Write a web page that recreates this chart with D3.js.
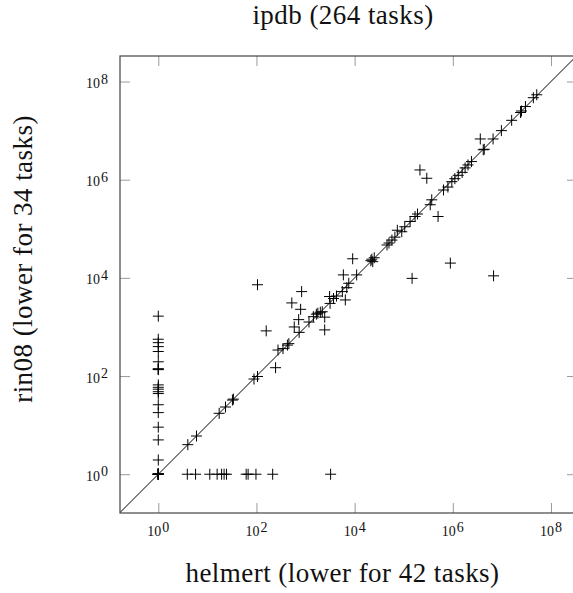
<!DOCTYPE html>
<html><head><meta charset="utf-8">
<script src="https://cdn.jsdelivr.net/npm/d3@7"></script>
<style>body{margin:0;background:#fff}svg{display:block}</style>
</head><body>
<script>
// ---- data (helmert vs rin08, parallel arrays) ----
const helmert = [
  1,1,1,1,1,1,1,1,1,1,
  1,1,1,1,1,1,1,1,1,1,1,1,1,1,1,1,1,1,1,
  3.9,5.75,11.2,15.8,19.5,21.9,24.5,61.7,67.6,97.7,214,3240,
  4,6,17.4,23.4,32.4,33.9,89,105,245,275,347,427,457,158,105,589,741,724,525,794,832,
  1175,1445,1660,1780,2000,2190,2455,2455,3090,3160,3720,4270,5620,6460,6920,7590,5890,9120,11000,
  21400,22400,23400,25100,45700,50100,57500,66100,74100,91200,105000,135000,148000,170000,191000,
  214000,295000,347000,372000,501000,646000,794000,891000,955000,
  1.10e6,1.29e6,1.55e6,1.78e6,2.04e6,2.40e6,6.76e6,3.63e6,4.17e6,4.37e6,6.61e6,9.77e6,
  1.58e7,2.40e7,2.51e7,3.02e7,4.37e7,5.13e7
];
const rin08 = [
  1,1,1,1,1,1,1,1,1,1,
  1660,562,479,398,316,195,138,135,141,66,59,54,48,44,26,18,9.1,5,1.95,
  1,1,1,1,1,1,1,1,1,1,1,1,
  4,6,17.4,23.4,32.4,33.9,87,98,148,339,363,427,457,832,7240,1000,776,1410,3090,2290,5250,
  1260,1620,1820,1905,2000,2040,1585,871,4170,3020,3800,4270,5250,3550,6310,7760,11500,24500,11500,
  22400,24000,21400,25700,46800,51300,58900,67600,93300,87100,110000,141000,9770,178000,200000,
  1580000,1070000,309000,389000,178000,617000,708000,20000,912000,
  1.05e6,1.23e6,1.41e6,1.74e6,2.0e6,2.34e6,1.10e4,6.76e6,4.07e6,4.17e6,6.76e6,1.0e7,
  1.62e7,2.34e7,2.51e7,3.09e7,4.68e7,5.37e7
];
const tickValues = [1, 1e2, 1e4, 1e6, 1e8];
const tickBase = "10";
const tickExponents = ["0", "2", "4", "6", "8"];
const titleText = "ipdb (264 tasks)";
const xLabelText = "helmert (lower for 42 tasks)";
const yLabelText = "rin08 (lower for 34 tasks)";

// ---- layout ----
const W = 573, H = 593;
const L = 120, R = 577, T = 56, B = 513;
const FONT = "'Liberation Serif', 'Times New Roman', serif";

const svg = d3.select("body").append("svg").attr("width", W).attr("height", H);

const x = d3.scaleLog().domain([Math.pow(10, -0.78), Math.pow(10, 8.53)]).range([L, R]);
const y = d3.scaleLog().domain([Math.pow(10, -0.79), Math.pow(10, 8.52)]).range([B, T]);

svg.append("defs").append("clipPath").attr("id", "clip")
  .append("rect").attr("x", L).attr("y", T).attr("width", R - L).attr("height", B - T);

// ticks on all four sides (inward)
function styleAxis(g) {
  g.select(".domain").remove();
  g.selectAll(".tick line").attr("stroke", "#9a9a9a").attr("stroke-width", 1);
  g.selectAll(".tick text").remove();
}
svg.append("g").attr("transform", `translate(0,${B})`)
  .call(d3.axisBottom(x).tickValues(tickValues).tickSize(-10).tickFormat(() => "")).call(styleAxis);
svg.append("g").attr("transform", `translate(0,${T})`)
  .call(d3.axisTop(x).tickValues(tickValues).tickSize(-10).tickFormat(() => "")).call(styleAxis);
svg.append("g").attr("transform", `translate(${L},0)`)
  .call(d3.axisLeft(y).tickValues(tickValues).tickSize(-10).tickFormat(() => "")).call(styleAxis);
svg.append("g").attr("transform", `translate(${R},0)`)
  .call(d3.axisRight(y).tickValues(tickValues).tickSize(-10).tickFormat(() => "")).call(styleAxis);

// tick labels
const tickData = tickValues.map((v, i) => ({ v, e: tickExponents[i] }));
const xl = svg.append("g").selectAll("text").data(tickData).join("text")
  .attr("x", d => x(d.v)).attr("y", 536).attr("text-anchor", "middle")
  .attr("font-family", FONT).attr("font-size", 14).attr("fill", "#111");
xl.append("tspan").text(tickBase);
xl.append("tspan").attr("dx", 1).attr("dy", -4.5).text(d => d.e);

const yl = svg.append("g").selectAll("text").data(tickData).join("text")
  .attr("x", 108).attr("y", d => y(d.v) + 6.5).attr("text-anchor", "end")
  .attr("font-family", FONT).attr("font-size", 14).attr("fill", "#111");
yl.append("tspan").text(tickBase);
yl.append("tspan").attr("dx", 1).attr("dy", -4.5).text(d => d.e);

// plot content
const plot = svg.append("g").attr("clip-path", "url(#clip)");
const dmin = Math.pow(10, -0.79), dmax = Math.pow(10, 8.6);
plot.append("line")
  .attr("x1", x(dmin)).attr("y1", y(dmin)).attr("x2", x(dmax)).attr("y2", y(dmax))
  .attr("stroke", "#000").attr("stroke-width", 1);

const pts = helmert.map((h, i) => ({ h, r: rin08[i] }));
const s = 5.5;
plot.append("g").selectAll("path").data(pts).join("path")
  .attr("d", d => {
    const cx = x(d.h), cy = y(d.r);
    return `M${cx - s},${cy}H${cx + s}M${cx},${cy - s}V${cy + s}`;
  })
  .attr("stroke", "#000").attr("stroke-width", 1).attr("fill", "none");

// frame
svg.append("rect").attr("x", L).attr("y", T).attr("width", R - L).attr("height", B - T)
  .attr("fill", "none").attr("stroke", "#444").attr("stroke-width", 1.2);

// titles
const big = { size: 27, spacing: 0.45 };
svg.append("text").attr("x", 343).attr("y", 24).attr("text-anchor", "middle")
  .attr("font-family", FONT).attr("font-size", big.size).attr("letter-spacing", big.spacing)
  .attr("fill", "#111").text(titleText);
svg.append("text").attr("x", 342.5).attr("y", 582).attr("text-anchor", "middle")
  .attr("font-family", FONT).attr("font-size", big.size).attr("letter-spacing", big.spacing)
  .attr("fill", "#111").text(xLabelText);
svg.append("text").attr("transform", "translate(32,259) rotate(-90)").attr("text-anchor", "middle")
  .attr("font-family", FONT).attr("font-size", big.size).attr("letter-spacing", big.spacing)
  .attr("fill", "#111").text(yLabelText);
</script>
</body></html>
